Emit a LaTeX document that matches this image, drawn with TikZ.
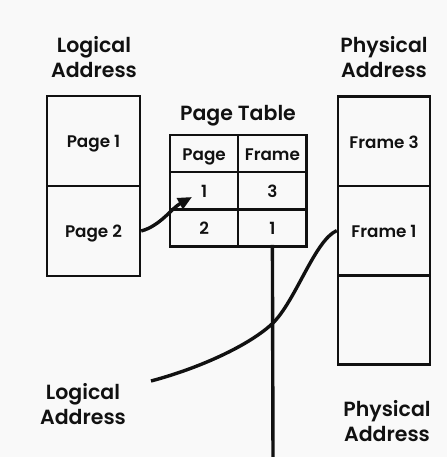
\documentclass[tikz,border=0pt]{standalone}
\usepackage{fontspec}
\setmainfont{Poppins}
\newfontfamily\medfont{Poppins SemiBold}
\newfontfamily\semifont{Poppins SemiBold}
\usetikzlibrary{arrows.meta}
\definecolor{bgcol}{HTML}{F9F9F9}
\definecolor{ink}{HTML}{111111}
\begin{document}
\begin{tikzpicture}[x=1pt,y=-1pt,
  cell/.style={draw=ink, line width=2.4pt, inner sep=0pt, font=\medfont\fontsize{16.8}{18}\selectfont, text=ink, text height=15pt, text depth=1.5pt},
  mcell/.style={cell, minimum width=93pt, minimum height=90pt},
  fcell/.style={cell, minimum width=92pt, minimum height=89.3pt},
  tcell/.style={cell, minimum width=68.3pt, minimum height=37.2pt},
  title/.style={font=\semifont\fontsize{20.5}{24.5}\selectfont, text=ink, align=center, inner sep=0pt},
  conn/.style={draw=ink, line width=3.4pt},
]
\fill[bgcol] (0,0) rectangle (447,457);
\useasboundingbox (0,0) rectangle (447,457);
% titles
\node[title] (lt) at (94,57) {Logical\\Address};
\node[title] (pt) at (384,57) {Physical\\Address};
\node[title] (tt) at (238,116) {Page Table};
% logical memory
\node[mcell] (p1) at (93.5,141) {Page 1};
\node[mcell] (p2) at (93.5,231) {Page 2};
% physical memory
\node[fcell] (f3) at (384,141.3) {Frame 3};
\node[fcell] (f1) at (384,230.6) {Frame 1};
\node[fcell] (f0) at (384,320) {};
% page table
\node[tcell] (h1) at (204.1,153.6) {Page};
\node[tcell] (h2) at (272.4,153.6) {Frame};
\node[tcell] (t11) at (204.1,190.8) {1};
\node[tcell] (t12) at (272.4,190.8) {3};
\node[tcell] (t21) at (204.1,228) {2};
\node[tcell] (t22) at (272.4,228) {1};
% bottom labels
\node[title] (bl) at (83,404) {Logical\\Address};
\node[title] (bp) at (387,421) {Physical\\Address};
% connectors
\coordinate (tip) at (192,197);
\draw[conn, -{Triangle[length=14pt,width=12pt]}] (p2.east) .. controls (160,226) and (172,208) .. (tip);
\coordinate (vend) at (273,460);
\draw[conn] ([yshift=3pt]t22.south) -- (vend);
\coordinate (cs) at (151,381);
\coordinate (cm) at (273,323);
\draw[conn] (cs) .. controls (200,368) and (250,345) .. (cm) .. controls (296,300) and (315,240) .. (f1.west);
\end{tikzpicture}
\end{document}
